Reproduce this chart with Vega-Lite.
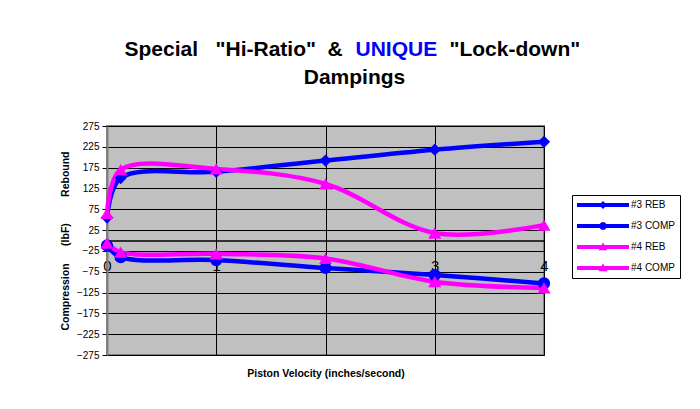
{
  "$schema": "https://vega.github.io/schema/vega-lite/v6.json",
  "autosize": {"type": "none"},
  "width": 437,
  "height": 229,
  "padding": {"left": 107, "top": 126, "right": 156, "bottom": 54},
  "background": "white",
  "config": {
    "font": "Liberation Sans",
    "view": {"fill": "#c0c0c0", "stroke": "#808080", "strokeWidth": 2}
  },
  "data": {
    "values": [
      {"series": "#3 REB", "velocity": 0, "force": 55},
      {"series": "#3 REB", "velocity": 0.125, "force": 150},
      {"series": "#3 REB", "velocity": 1, "force": 165},
      {"series": "#3 REB", "velocity": 2, "force": 192},
      {"series": "#3 REB", "velocity": 3, "force": 218},
      {"series": "#3 REB", "velocity": 4, "force": 237},
      {"series": "#3 COMP", "velocity": 0, "force": -12},
      {"series": "#3 COMP", "velocity": 0.125, "force": -40},
      {"series": "#3 COMP", "velocity": 1, "force": -47},
      {"series": "#3 COMP", "velocity": 2, "force": -66},
      {"series": "#3 COMP", "velocity": 3, "force": -83},
      {"series": "#3 COMP", "velocity": 4, "force": -103},
      {"series": "#4 REB", "velocity": 0, "force": 65},
      {"series": "#4 REB", "velocity": 0.125, "force": 170},
      {"series": "#4 REB", "velocity": 1, "force": 172},
      {"series": "#4 REB", "velocity": 2, "force": 136},
      {"series": "#4 REB", "velocity": 3, "force": 18},
      {"series": "#4 REB", "velocity": 4, "force": 37},
      {"series": "#4 COMP", "velocity": 0, "force": -6},
      {"series": "#4 COMP", "velocity": 0.125, "force": -28},
      {"series": "#4 COMP", "velocity": 1, "force": -32},
      {"series": "#4 COMP", "velocity": 2, "force": -43},
      {"series": "#4 COMP", "velocity": 3, "force": -99},
      {"series": "#4 COMP", "velocity": 4, "force": -114}
    ]
  },
  "resolve": {
    "axis": {"x": "independent", "y": "independent"},
    "legend": {"color": "independent", "shape": "independent"}
  },
  "layer": [
    {
      "mark": {"type": "line", "interpolate": "catmull-rom", "strokeWidth": 4.5},
      "encoding": {
        "x": {
          "field": "velocity", "type": "quantitative",
          "scale": {"domain": [0, 4], "nice": false, "zero": false},
          "axis": {
            "orient": "bottom", "offset": -114.5, "values": [0, 1, 2, 3, 4],
            "grid": true, "gridColor": "#000000", "gridWidth": 1, "gridOpacity": 1,
            "domain": true, "domainColor": "#000000", "domainWidth": 1.5,
            "ticks": false, "tickSize": 0,
            "labelFontSize": 15, "labelColor": "#000000", "labelPadding": 18,
            "labelFlush": false, "labelOverlap": false,
            "title": "Piston Velocity (inches/second)",
            "titleFontSize": 10.5, "titleFontWeight": "bold", "titleColor": "#000000",
            "titleX": 218.5, "titleY": 132.5, "titleAlign": "center", "titleBaseline": "middle"
          }
        },
        "y": {
          "field": "force", "type": "quantitative",
          "scale": {"domain": [-275, 275], "nice": false, "zero": false},
          "axis": {
            "orient": "left",
            "values": [-275, -225, -175, -125, -75, -25, 25, 75, 125, 175, 225, 275],
            "grid": true, "gridColor": "#000000", "gridWidth": 1, "gridOpacity": 1,
            "domainColor": "#808080", "domainWidth": 2,
            "tickColor": "#000000", "tickSize": 5,
            "labelFontSize": 10, "labelColor": "#000000", "labelPadding": 3,
            "title": "Compression\u00a0\u00a0\u00a0\u00a0\u00a0\u00a0(lbF)\u00a0\u00a0\u00a0\u00a0\u00a0\u00a0\u00a0\u00a0\u00a0Rebound",
            "titleFontSize": 10.5, "titleFontWeight": "bold", "titleColor": "#000000",
            "titleX": -42, "titleY": 114.5, "titleAngle": -90,
            "titleAlign": "center", "titleBaseline": "middle"
          }
        },
        "color": {
          "field": "series", "type": "nominal",
          "scale": {
            "domain": ["#3 REB", "#3 COMP", "#4 REB", "#4 COMP"],
            "range": ["#0000ff", "#0000ff", "#ff00ff", "#ff00ff"]
          },
          "legend": {
            "title": null, "orient": "none", "legendX": 465, "legendY": 69,
            "strokeColor": "#000000", "fillColor": "#ffffff", "padding": 5,
            "cornerRadius": 0,
            "labelFontSize": 10, "labelColor": "#000000",
            "rowPadding": 11, "symbolSize": 16, "symbolOffset": 21, "labelOffset": 23,
            "encode": {
              "symbols": {
                "update": {
                  "shape": {"signal": "datum.value === '#3 REB' ? 'M-13,-1L13,-1L13,1L-13,1ZM0,-2L2,0L0,2L-2,0Z' : datum.value === '#3 COMP' ? 'M-13,-1L13,-1L13,1L-13,1ZM-0.8,-1.9L0.8,-1.9L1.9,-0.8L1.9,0.8L0.8,1.9L-0.8,1.9L-1.9,0.8L-1.9,-0.8Z' : 'M-13,-1L13,-1L13,1L-13,1ZM0,-2.2L2.2,1.6L-2.2,1.6Z'"},
                  "fill": {"scale": "color", "field": "value"},
                  "strokeWidth": {"value": 0},
                  "opacity": {"value": 1}
                }
              }
            }
          }
        }
      }
    },
    {
      "transform": [{"filter": {"field": "series", "oneOf": ["#3 REB", "#3 COMP"]}}],
      "mark": {"type": "point", "filled": true, "opacity": 1, "size": 150},
      "encoding": {
        "x": {
          "field": "velocity", "type": "quantitative",
          "axis": {
            "orient": "top", "labels": false, "ticks": false, "domain": false, "grid": false,
            "title": "Special\u00a0\u00a0\u00a0\"Hi-Ratio\"\u00a0\u00a0&",
            "titleFontSize": 21, "titleFontWeight": "bold", "titleColor": "#000000",
            "titleX": 17, "titleY": -71, "titleAlign": "left", "titleBaseline": "alphabetic"
          }
        },
        "y": {
          "field": "force", "type": "quantitative",
          "axis": {
            "orient": "right", "labels": false, "ticks": false, "domain": false, "grid": false,
            "title": "UNIQUE",
            "titleFontSize": 21, "titleFontWeight": "bold", "titleColor": "#0000ff",
            "titleAngle": 0, "titleX": -189, "titleY": -71,
            "titleAlign": "left", "titleBaseline": "alphabetic"
          }
        },
        "color": {"field": "series", "type": "nominal", "legend": null},
        "shape": {
          "field": "series", "type": "nominal",
          "scale": {
            "domain": ["#3 REB", "#3 COMP", "#4 REB", "#4 COMP"],
            "range": ["diamond", "circle", "triangle-up", "triangle-up"]
          },
          "legend": null
        }
      }
    },
    {
      "transform": [{"filter": {"field": "series", "oneOf": ["#4 REB", "#4 COMP"]}}],
      "mark": {"type": "point", "filled": true, "opacity": 1, "size": 170},
      "encoding": {
        "x": {
          "field": "velocity", "type": "quantitative",
          "axis": {
            "orient": "top", "labels": false, "ticks": false, "domain": false, "grid": false,
            "title": "\"Lock-down\"",
            "titleFontSize": 21, "titleFontWeight": "bold", "titleColor": "#000000",
            "titleX": 342, "titleY": -71, "titleAlign": "left", "titleBaseline": "alphabetic"
          }
        },
        "y": {
          "field": "force", "type": "quantitative",
          "axis": {
            "orient": "right", "labels": false, "ticks": false, "domain": false, "grid": false,
            "title": "Dampings",
            "titleFontSize": 21, "titleFontWeight": "bold", "titleColor": "#000000",
            "titleAngle": 0, "titleX": -190, "titleY": -43,
            "titleAlign": "center", "titleBaseline": "alphabetic"
          }
        },
        "color": {"field": "series", "type": "nominal", "legend": null},
        "shape": {"field": "series", "type": "nominal", "legend": null}
      }
    }
  ]
}
